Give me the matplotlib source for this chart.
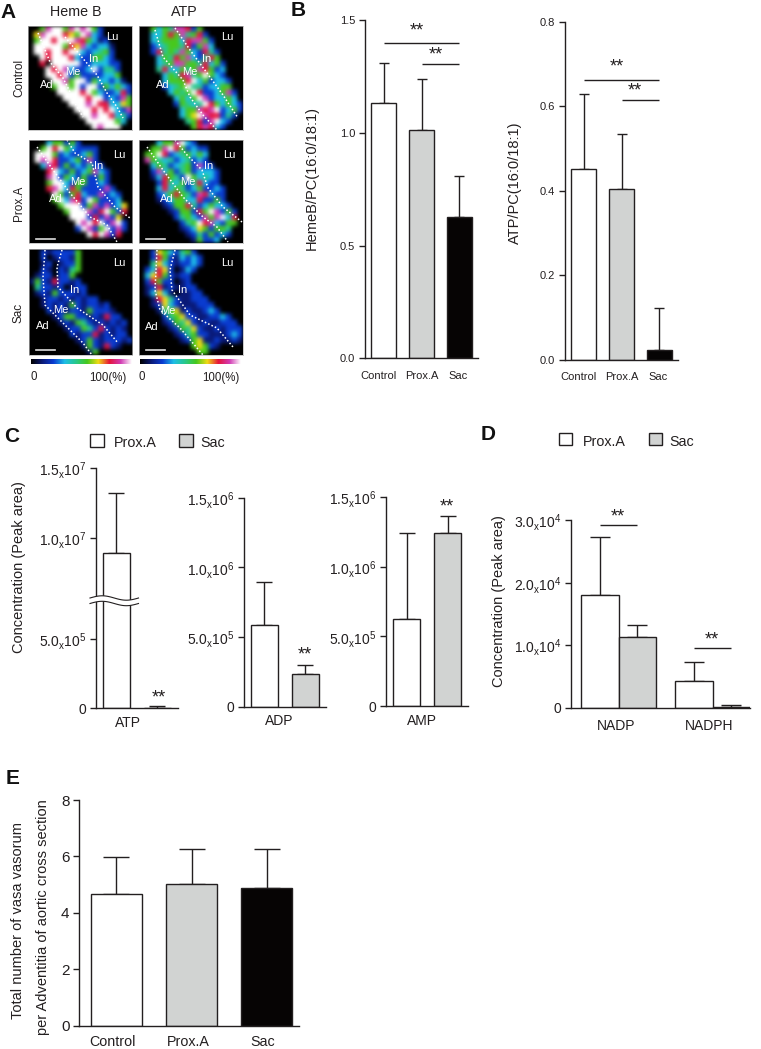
import matplotlib
matplotlib.use('Agg')
import matplotlib.pyplot as plt
import numpy as np
from matplotlib.colors import LinearSegmentedColormap
from matplotlib.patches import Rectangle

W, H = 761, 1049
INK = '#231f20'
GRAY = '#d1d3d2'
BLACK = '#060404'

plt.rcParams['font.family'] = ['Liberation Sans', 'DejaVu Sans']
plt.rcParams['mathtext.fontset'] = 'custom'
plt.rcParams['mathtext.rm'] = 'Liberation Sans'
plt.rcParams['mathtext.default'] = 'rm'
plt.rcParams['text.color'] = INK
plt.rcParams['axes.labelcolor'] = INK
plt.rcParams['axes.edgecolor'] = INK
plt.rcParams['xtick.color'] = INK
plt.rcParams['ytick.color'] = INK

# imaging panels, one digit per cell: 0 black, 1 navy, 2 blue, 3 cyan, 4 teal,
# 5 green, 6 yellow, 7 red, 8 magenta, 9 white
heme_control = [
	"005899589895200000", "068999765983200000", "059979998753120000",
	"099999576832331000", "099799799323452000", "009799973225532000",
	"007099999223332200", "000979832239244200", "000997925222233500",
	"000099859925332310", "000059959299253532", "000009999795322372",
	"000000999979923285", "000000099989773365", "000000009997979328",
	"000000000998997342", "000000000099999530", "000000000009899900",
]
atp_control = [
	"005354887250000000", "003357584572000000", "003455537885200000",
	"002345547258300000", "002745485327420000", "000354758324750000",
	"000345885547352000", "000473354587523000", "000035478459532000",
	"000035557935233200", "000023459442335500", "000003545972235820",
	"000000353598233530", "000000254349753532", "000000035587892352",
	"000000035698772420", "000000004572893200", "000000000578732000",
]
heme_prox = [
	"000355252000000000", "005979532222000000", "099952322352000000",
	"098972235282000000", "003872523242200000", "000793252358320000",
	"000892532522520000", "000599325522320000", "000789375222282000",
	"000095257322823200", "000059387295222300", "000005999258282360",
	"000000599982795270", "000000099927282600", "000000009897928920",
	"000000002982592820", "000000000097982700", "000000000000000000",
]
atp_prox = [
	"000355893200000000", "005589752322000000", "055972345353000000",
	"085434234232000000", "003542345282200000", "002835245233320000",
	"001375429534320000", "000274352473220000", "000373542352232000",
	"000235754287322000", "000123553372252000", "000012557423533200",
	"000001255275982520", "000000245328589370", "000000024597832550",
	"000000012365255400", "000000001242523200", "000000000152230000",
]
heme_sac = [
	"002122225000000000", "002012215000000000", "001201225000000000",
	"002102145000000000", "012202250000000000", "152172212000000000",
	"042212012200000000", "012152221200000000", "001221212122000000",
	"001212152122120000", "000212122152221000", "000012552212172200",
	"000001215421212120", "000000122542721210", "000000021227121220",
	"000000001252122212", "000000000152172100", "000000000015000000",
]
atp_sac = [
	"002653245200000000", "002752132320000000", "004632122320000000",
	"023762013200000000", "036752122000000000", "027522012000000000",
	"012712112200000000", "013631011220000000", "001764211222000000",
	"001263211122200000", "000145612112320000", "000024562211223200",
	"000012546212112220", "000001254621121222", "000000124522111232",
	"000000012561121121", "000000000565210000", "000000000055000000",
]

# dotted layer borders, traced on the panels
border_heme_control = [[(65, 37), (80, 55), (97, 75), (107, 93), (117, 107), (123, 118)],
	[(38, 33), (50, 62), (63, 78), (68, 88), (75, 103), (83, 117)]]
border_atp_control = [[(175, 28), (190, 50), (207, 73), (223, 95), (238, 118)],
	[(155, 30), (163, 57), (183, 80), (190, 97), (203, 115), (217, 130)]]
border_heme_prox = [[(67, 140), (75, 153), (92, 163), (98, 187), (115, 207), (130, 218)],
	[(37, 147), (53, 170), (70, 193), (90, 217), (107, 225), (117, 242)]]
border_atp_prox = [[(175, 140), (187, 155), (202, 170), (208, 188), (223, 207), (242, 222)],
	[(147, 147), (163, 170), (183, 197), (203, 217), (217, 227), (228, 242)]]
border_heme_sac = [[(62, 250), (57, 267), (58, 287), (77, 308), (103, 325), (118, 343)],
	[(45, 250), (43, 277), (45, 305), (63, 323), (83, 343), (92, 355)]]
border_atp_sac = [[(175, 250), (170, 270), (172, 290), (190, 315), (217, 328), (233, 347)],
	[(157, 250), (155, 290), (160, 310), (180, 328), (203, 355)]]

# bar data
groups = ['Control', 'Prox.A', 'Sac']
heme_mean = [1.13, 1.012, 0.628]
heme_err = [0.18, 0.225, 0.179]
atpb_mean = [0.4505, 0.404, 0.022]
atpb_err = [0.179, 0.13, 0.0995]

atp_mean = [8.88e6, 3000]
atp_err = [4.36e6, 14000]
adp_mean = [5.84e5, 2.32e5]
adp_err = [3.13e5, 0.67e5]
amp_mean = [6.23e5, 1.241e6]
amp_err = [6.23e5, 1.25e5]

nadp_mean = [1.80e4, 1.13e4]
nadp_err = [0.93e4, 0.186e4]
nadph_mean = [4300, 100]
nadph_err = [3000, 330]

vasa_mean = [4.67, 5.01, 4.87]
vasa_err = [1.32, 1.25, 1.38]


def fx(x):
	return x / W


def fy(y):
	return 1 - y / H


def px_axes(left, top, right, bottom):
	return fig.add_axes([fx(left), fy(bottom), (right - left) / W, (bottom - top) / H])


def px_text(x, y, s, **kw):
	kw.setdefault('ha', 'center')
	kw.setdefault('va', 'center' if kw.get('rotation') else 'center_baseline')
	fig.text(fx(x), fy(y), s, **kw)


def sci(m, e):
	return f'{m}$_{{\\mathrm{{x}}}}$10$^{{{e}}}$'


def style_bar_axis(ax, ylim, yticks, yticklabels, tick_size, label_pos, labels, label_size, pad):
	ax.spines['top'].set_visible(False)
	ax.spines['right'].set_visible(False)
	ax.spines['left'].set_linewidth(1.0)
	ax.spines['bottom'].set_linewidth(1.0)
	ax.set_ylim(ylim)
	ax.set_yticks(yticks, yticklabels, fontsize=tick_size)
	ax.tick_params(axis='y', length=4, width=1.0, pad=3)
	ax.set_xticks(label_pos, labels, fontsize=label_size)
	ax.tick_params(axis='x', length=0, pad=pad)
	ax.patch.set_alpha(0)


def draw_bars(ax, x, mean, err, colors, width, capsize):
	ax.bar(x, mean, width=width, color=colors, edgecolor=INK, linewidth=1.0, zorder=2)
	ax.errorbar(x, mean, yerr=[np.zeros(len(mean)), err], fmt='none', ecolor=INK,
		elinewidth=1.0, capsize=capsize, capthick=1.0, zorder=1)


def sig_line(ax, x0, x1, y):
	ax.plot([x0, x1], [y, y], color=INK, lw=1.0, clip_on=False, solid_capstyle='butt')


def stars(x, y):
	px_text(x, y, '**', fontsize=13, va='center')


def soften(rgb):
	# cells up to pixels, then two box passes per axis on each colour channel
	big = np.repeat(np.repeat(rgb, 6, axis=0), 6, axis=1)
	box = np.ones(5) / 5
	for ch in range(3):
		band = big[:, :, ch]
		for _ in range(2):
			band = np.apply_along_axis(np.convolve, 0, band, box, mode='same')
			band = np.apply_along_axis(np.convolve, 1, band, box, mode='same')
		big[:, :, ch] = band
	return np.clip(big, 0, 1)


def image_panel(rows, left, top, right, bottom, borders, names, scale_bar=None):
	grid = np.array([[int(c) for c in row] for row in rows], dtype=float)
	ax = px_axes(left, top, right, bottom)
	ax.imshow(soften(imaging(grid / 9)[:, :, :3]), interpolation='bilinear',
		extent=[left, right, bottom, top], aspect='auto')
	for line in borders:
		xs, ys = zip(*line)
		ax.plot(xs, ys, color='white', lw=1.1, ls=(0, (1, 1.4)))
	for (x, y), s in names:
		ax.text(x, y, s, color='white', fontsize=8, ha='center', va='center')
	if scale_bar:
		ax.plot(scale_bar[:2], [scale_bar[2]] * 2, color='#dddddd', lw=1.2)
	ax.set_xlim(left, right)
	ax.set_ylim(bottom, top)
	ax.set_xticks([])
	ax.set_yticks([])
	for s in ax.spines.values():
		s.set_edgecolor('#b5b5b5')
		s.set_linewidth(0.5)


def legend_box(x0, x1, y0, y1, color):
	fig.add_artist(Rectangle((fx(x0), fy(y1)), (x1 - x0) / W, (y1 - y0) / H, facecolor=color,
		edgecolor=INK, linewidth=1.0, transform=fig.transFigure))


fig = plt.figure(figsize=(W / 100, H / 100), dpi=100)

imaging = LinearSegmentedColormap.from_list('imaging', [
	(0.0, '#000000'), (1 / 9, '#0a1a78'), (2 / 9, '#0a3cd2'), (3 / 9, '#1ebee6'),
	(4 / 9, '#28c88c'), (5 / 9, '#46c81e'), (6 / 9, '#f0dc14'), (7 / 9, '#e6143c'),
	(8 / 9, '#d23cb4'), (1.0, '#ffffff')])

# A
image_panel(heme_control, 28, 26, 132, 130, border_heme_control,
	[((112, 37), 'Lu'), ((94, 59), 'In'), ((73, 72), 'Me'), ((47, 85), 'Ad')])
image_panel(atp_control, 139, 26, 243, 130, border_atp_control,
	[((227, 37), 'Lu'), ((207, 59), 'In'), ((190, 72), 'Me'), ((163, 85), 'Ad')])
image_panel(heme_prox, 29, 140, 132, 243, border_heme_prox,
	[((119, 155), 'Lu'), ((99, 166), 'In'), ((78, 182), 'Me'), ((56, 199), 'Ad')], (36, 55, 238.7))
image_panel(atp_prox, 139, 140, 243, 243, border_atp_prox,
	[((229, 155), 'Lu'), ((209, 166), 'In'), ((188, 182), 'Me'), ((167, 199), 'Ad')], (146, 165, 238.7))
image_panel(heme_sac, 29, 249, 132, 355, border_heme_sac,
	[((119, 263), 'Lu'), ((75, 290), 'In'), ((61, 310), 'Me'), ((43, 326), 'Ad')], (36, 55, 349.7))
image_panel(atp_sac, 139, 249, 243, 355, border_atp_sac,
	[((227, 263), 'Lu'), ((183, 290), 'In'), ((168, 311), 'Me'), ((152, 327), 'Ad')], (146, 165, 349.7))

px_text(76, 10, 'Heme B', fontsize=10.3)
px_text(184, 10, 'ATP', fontsize=10.3)
px_text(19, 78, 'Control', fontsize=8.5, rotation=90)
px_text(19, 203, 'Prox.A', fontsize=8.5, rotation=90)
px_text(19, 313, 'Sac', fontsize=8.5, rotation=90)

gradient = np.linspace(0, 1, 256).reshape(1, -1)
for left, right, x0, x100 in [(31, 132, 34, 108), (140, 241, 142, 221)]:
	cax = px_axes(left, 359, right, 364)
	cax.imshow(gradient, cmap=imaging, aspect='auto')
	cax.axis('off')
	px_text(x0, 376, '0', fontsize=8.3)
	px_text(x100, 376, '100(%)', fontsize=8.3)

# B
bar_colors = ['white', GRAY, BLACK]
ax = px_axes(365, 20, 478, 358.3)
draw_bars(ax, [0, 1, 2], heme_mean, heme_err, bar_colors, 0.66, 3.4)
ax.set_xlim(-0.5, 2.5)
style_bar_axis(ax, (0, 1.5), [0, 0.5, 1.0, 1.5], ['0.0', '0.5', '1.0', '1.5'], 8,
	[-0.15, 1.02, 1.98], groups, 8, 9)
sig_line(ax, 0, 2, 1.396)
sig_line(ax, 1, 2, 1.306)
stars(417, 31)
stars(436, 55)
ax.set_ylabel('HemeB/PC(16:0/18:1)', fontsize=10.5, va='center')
ax.yaxis.set_label_coords(fx(311.7), fy(177.5), transform=fig.transFigure)

ax = px_axes(565, 21.7, 678, 359.7)
draw_bars(ax, [0, 1, 2], atpb_mean, atpb_err, bar_colors, 0.66, 3.4)
ax.set_xlim(-0.5, 2.5)
style_bar_axis(ax, (0, 0.8), [0, 0.2, 0.4, 0.6, 0.8], ['0.0', '0.2', '0.4', '0.6', '0.8'], 8,
	[-0.13, 1.02, 1.98], groups, 8, 9)
sig_line(ax, 0, 2, 0.662)
sig_line(ax, 1, 2, 0.614)
stars(617, 67)
stars(635, 91)
ax.set_ylabel('ATP/PC(16:0/18:1)', fontsize=10.5, va='center')
ax.yaxis.set_label_coords(fx(515), fy(182.5), transform=fig.transFigure)

# C
pair_colors = ['white', GRAY]
legend_box(90, 103.7, 434, 446.7, 'white')
px_text(114, 441.3, 'Prox.A', fontsize=10.3, ha='left')
legend_box(179.3, 193, 434, 446.7, GRAY)
px_text(200, 441.3, 'Sac', fontsize=10.3, ha='left')


def squeeze(v):
	return np.interp(v, [0, 7.8e5, 5.5e6, 1.5e7], [0, 0.78, 0.781, 1.73])


def unsqueeze(v):
	return np.interp(v, [0, 0.78, 0.781, 1.73], [0, 7.8e5, 5.5e6, 1.5e7])


ax = px_axes(95.7, 468.3, 177.7, 708.3)
ax.set_yscale('function', functions=(squeeze, unsqueeze))
draw_bars(ax, [0, 1], atp_mean, atp_err, pair_colors, 0.66, 5.8)
ax.set_xlim(-0.5, 1.5)
style_bar_axis(ax, (0, 1.5e7), [0, 5e5, 1e7, 1.5e7],
	['0', sci('5.0', 5), sci('1.0', 7), sci('1.5', 7)], 10, [0.28], ['ATP'], 10, 5.5)
ax.minorticks_off()
ax.set_ylabel('Concentration (Peak area)', fontsize=10.5, va='center')
ax.yaxis.set_label_coords(fx(19), fy(567), transform=fig.transFigure)
stars(158.5, 698)

# axis break across the ATP bar
t = np.linspace(90, 138.5, 60)
wave = -2.2 * np.sin((t - 90) / 48.5 * 2 * np.pi)
fig.add_artist(plt.Polygon(np.column_stack([fx(np.r_[t, t[::-1]]),
	fy(np.r_[598 + wave, (603.5 + wave)[::-1]])]), closed=True, facecolor='white',
	edgecolor='none', transform=fig.transFigure, zorder=5))
for off in (598, 603.5):
	fig.add_artist(plt.Line2D(fx(t), fy(off + wave), color=INK, lw=0.8, transform=fig.transFigure, zorder=6))

ax = px_axes(243.7, 497.7, 325.7, 706.7)
draw_bars(ax, [0, 1], adp_mean, adp_err, pair_colors, 0.66, 5.8)
ax.set_xlim(-0.5, 1.5)
style_bar_axis(ax, (0, 1.5e6), [0, 5e5, 1e6, 1.5e6],
	['0', sci('5.0', 5), sci('1.0', 6), sci('1.5', 6)], 10, [0.37], ['ADP'], 10, 5.5)
stars(305, 655)

ax = px_axes(386.3, 497.3, 468.3, 706)
draw_bars(ax, [0, 1], amp_mean, amp_err, pair_colors, 0.66, 5.8)
ax.set_xlim(-0.5, 1.5)
style_bar_axis(ax, (0, 1.5e6), [0, 5e5, 1e6, 1.5e6],
	['0', sci('5.0', 5), sci('1.0', 6), sci('1.5', 6)], 10, [0.375], ['AMP'], 10, 5.5)
stars(447.3, 507)

# D
legend_box(559, 572.3, 432.7, 445.3, 'white')
px_text(582.7, 440.3, 'Prox.A', fontsize=10.3, ha='left')
legend_box(649.3, 662.3, 432.7, 445.3, GRAY)
px_text(669.3, 440.3, 'Sac', fontsize=10.3, ha='left')

ax = px_axes(571, 520, 750, 707.7)
bar_w = 0.4
draw_bars(ax, [-0.2, 0.8], [nadp_mean[0], nadph_mean[0]], [nadp_err[0], nadph_err[0]], 'white', bar_w, 7.2)
draw_bars(ax, [0.2, 1.2], [nadp_mean[1], nadph_mean[1]], [nadp_err[1], nadph_err[1]], GRAY, bar_w, 7.2)
ax.set_xlim(-0.507, 1.397)
style_bar_axis(ax, (0, 3e4), [0, 1e4, 2e4, 3e4],
	['0', sci('1.0', 4), sci('2.0', 4), sci('3.0', 4)], 10, [-0.03, 0.964], ['NADP', 'NADPH'], 10, 8)
sig_line(ax, -0.2, 0.2, 2.92e4)
sig_line(ax, 0.8, 1.2, 9.49e3)
stars(618.3, 517)
stars(711.7, 640)
ax.set_ylabel('Concentration (Peak area)', fontsize=10.5, va='center')
ax.yaxis.set_label_coords(fx(499), fy(600.8), transform=fig.transFigure)

# E
ax = px_axes(79.3, 800, 299, 1025.7)
draw_bars(ax, [0, 1, 2], vasa_mean, vasa_err, bar_colors, 0.675, 9.4)
ax.set_xlim(-0.495, 2.43)
style_bar_axis(ax, (0, 8), [0, 2, 4, 6, 8], ['0', '2', '4', '6', '8'], 11,
	[-0.05, 0.95, 1.95], groups, 10.3, 7)
ax.set_ylabel('Total number of vasa vasorum', fontsize=10.5, va='center')
ax.yaxis.set_label_coords(fx(18.3), fy(920.8), transform=fig.transFigure)
px_text(43.3, 916.7, 'per Adventitia of aortic cross section', fontsize=10.5, rotation=90)

# panel letters
for x, y, s in [(8, 10, 'A'), (298, 9, 'B'), (12, 434, 'C'), (488, 432, 'D'), (13, 776, 'E')]:
	px_text(x, y, s, fontsize=15, fontweight='bold', color='#111111')

fig.savefig('out.png', dpi=100)
